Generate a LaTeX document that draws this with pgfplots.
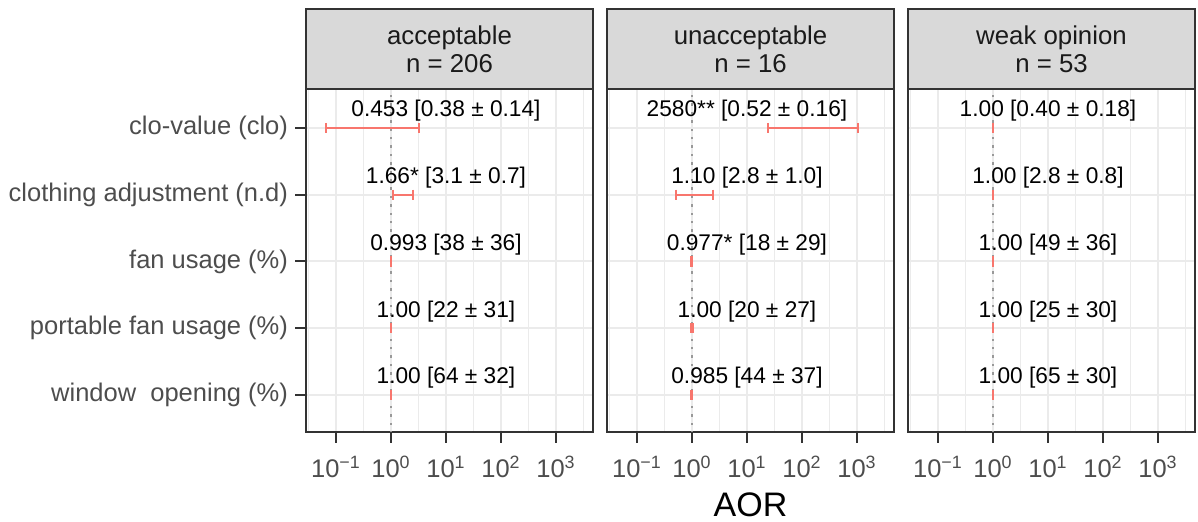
\documentclass[border=0pt]{standalone}
\usepackage{fontspec}
\setmainfont{Liberation Sans}
\usepackage{pgfplots}
\pgfplotsset{compat=1.18}
\definecolor{ggred}{HTML}{F8766D}
\definecolor{gridc}{HTML}{EBEBEB}
\definecolor{borderc}{HTML}{333333}
\definecolor{stripc}{HTML}{D9D9D9}
\definecolor{ticktext}{HTML}{4D4D4D}
\definecolor{striptext}{HTML}{1A1A1A}
\definecolor{vlinec}{HTML}{999999}
\pgfplotsset{every axis title/.style={at={(0.5,1)}, anchor=south, fill=stripc, draw=borderc, line width=1pt,
      minimum width=143.5pt, minimum height=40pt, inner sep=0pt, outer sep=0pt, align=center,
      font=\fontsize{12.9}{13.85}\selectfont, text=striptext}}
\pgfplotsset{every axis/.append style={
    scale only axis, width=143.5pt, height=171.5pt,
    xmode=log, xmin=0.02851, xmax=4710, ymin=0.446, ymax=5.584,
    xtick={0.1,1,10,100,1000},
    xticklabels={10\textsuperscript{−1},10\textsuperscript{0},10\textsuperscript{1},10\textsuperscript{2},10\textsuperscript{3}},
    minor xtick={0.0316228,0.316228,3.16228,31.6228,316.228,3162.28},
    ytick={1,2,3,4,5},
    xmajorgrids, xminorgrids, ymajorgrids,
    major grid style={draw=gridc, line width=1pt},
    minor grid style={draw=gridc, line width=0.6pt},
    axis line style={draw=borderc, line width=1pt},
    tick align=outside, xtick pos=left, ytick pos=left,
    major tick length=5.5pt, minor tick length=0pt,
    tick style={draw=borderc, line width=1pt},
    ticklabel style={font=\fontsize{12.75}{14}\selectfont, text=ticktext},
    xticklabel style={yshift=-3pt},
}}
\newcommand{\ann}[2]{\node[font=\fontsize{11.35}{13}\selectfont, text=black, anchor=center] at (axis cs:10,#1) {#2};}
\newcommand{\ebar}[3]{\addplot[draw=ggred, line width=1.1pt, mark=|, mark size=2.6pt, mark options={solid, draw=ggred, line width=1.1pt}] coordinates {(#1,#3) (#2,#3)};}
\newcommand{\refline}{\addplot[draw=vlinec, line width=0.8pt, dash pattern=on 1.2pt off 3pt] coordinates {(1,0.3) (1,6)};}
\begin{document}
\begin{tikzpicture}
\useasboundingbox (0,0) rectangle (599pt,261pt);
% Panel 1
\begin{axis}[anchor=south west, at={(153pt,45pt)}, title={acceptable\\n = 206},
  yticklabels={window\ \ opening (\%),portable fan usage (\%),fan usage (\%),clothing adjustment (n.d),clo-value (clo)}]
\refline
\ebar{0.066}{3.27}{5}
\ebar{1.1}{2.48}{4}
\ebar{0.985}{1.0}{3}
\ebar{0.995}{1.005}{2}
\ebar{0.995}{1.005}{1}
\ann{5.255}{0.453 [0.38 ± 0.14]}
\ann{4.255}{1.66* [3.1 ± 0.7]}
\ann{3.255}{0.993 [38 ± 36]}
\ann{2.255}{1.00 [22 ± 31]}
\ann{1.255}{1.00 [64 ± 32]}
\end{axis}
% Panel 2
\begin{axis}[anchor=south west, at={(303.5pt,45pt)}, title={unacceptable\\n = 16},
  yticklabels={}, ytick style={draw=none},
  xlabel={AOR}, xlabel style={at={(axis description cs:0.5,-0.213)}, anchor=center, font=\fontsize{17}{19}\selectfont, text=black}]
\refline
\ebar{24}{1050}{5}
\ebar{0.52}{2.4}{4}
\ebar{0.96}{0.995}{3}
\ebar{0.98}{1.04}{2}
\ebar{0.97}{1.0}{1}
\ann{5.255}{2580** [0.52 ± 0.16]}
\ann{4.255}{1.10 [2.8 ± 1.0]}
\ann{3.255}{0.977* [18 ± 29]}
\ann{2.255}{1.00 [20 ± 27]}
\ann{1.255}{0.985 [44 ± 37]}
\end{axis}
% Panel 3
\begin{axis}[anchor=south west, at={(454pt,45pt)}, title={weak opinion\\n = 53},
  yticklabels={}, ytick style={draw=none}]
\refline
\ebar{0.995}{1.005}{5}
\ebar{0.995}{1.005}{4}
\ebar{0.995}{1.005}{3}
\ebar{0.995}{1.005}{2}
\ebar{0.995}{1.005}{1}
\ann{5.255}{1.00 [0.40 ± 0.18]}
\ann{4.255}{1.00 [2.8 ± 0.8]}
\ann{3.255}{1.00 [49 ± 36]}
\ann{2.255}{1.00 [25 ± 30]}
\ann{1.255}{1.00 [65 ± 30]}
\end{axis}
\end{tikzpicture}
\end{document}
